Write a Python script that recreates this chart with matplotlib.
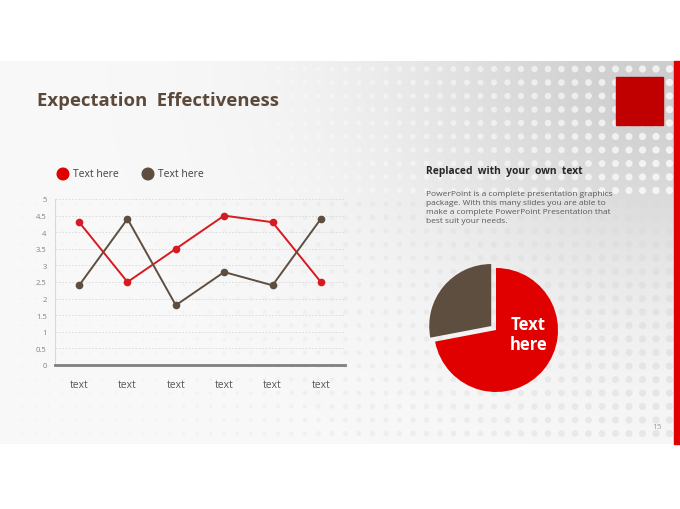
import numpy as np
import matplotlib
matplotlib.use("Agg")
import matplotlib.pyplot as plt
from matplotlib.patches import Rectangle

plt.rcParams['font.family'] = ['Open Sans', 'DejaVu Sans']

# ---------------- data ----------------
categories = ["text", "text", "text", "text", "text", "text"]
series_red = [4.3, 2.5, 3.5, 4.5, 4.3, 2.5]
series_brown = [2.4, 4.4, 1.8, 2.8, 2.4, 4.4]
legend_labels = ["Text here", "Text here"]
y_ticks = [0, 0.5, 1, 1.5, 2, 2.5, 3, 3.5, 4, 4.5, 5]
y_tick_labels = ["0", "0.5", "1", "1.5", "2", "2.5", "3", "3.5", "4", "4.5", "5"]
pie_values = [28, 72]          # brown, red
pie_label = "Text\nhere"

title = "Expectation  Effectiveness"
side_title = "Replaced  with  your  own  text"
side_body = ("PowerPoint is a complete presentation graphics\n"
             "package. With this many slides you are able to\n"
             "make a complete PowerPoint Presentation that\n"
             "best suit your needs.")
page_no = "15"

RED = "#E00000"
LINE_RED = "#D71920"
BROWN = "#5E4E40"
DARK_RED = "#C00000"

W, H = 680, 510
fig = plt.figure(figsize=(6.8, 5.1), dpi=100)
fig.patch.set_facecolor("white")

# ---------------- background (pixel coords) ----------------
bg = fig.add_axes([0, 0, 1, 1])
bg.set_xlim(0, W)
bg.set_ylim(H, 0)
bg.axis("off")

top, bottom = 62, 445
xs = np.linspace(0, 674, 340)
ys = np.linspace(top, bottom, 200)
gx, gy = np.meshgrid(xs, ys)
d = np.hypot((gx - 680) / 330, (gy - 62) / 260)
shade = 0.975 - 0.17 * np.exp(-d ** 2 * 1.4)
bg.imshow(np.dstack([shade] * 3), extent=(0, 674, bottom, top),
          aspect="auto", zorder=0, interpolation="bilinear")

# halftone dots
dx = np.arange(8, 674, 13.5)
dy = np.arange(70, 445, 13.5)
px, py = np.meshgrid(dx, dy)
px, py = px.ravel(), py.ravel()
strength = np.clip((px - 120) / 550, 0, 1) ** 1.2
sizes = 4 + 24 * strength
upper = py < 205
dot_col = np.where(upper[:, None], [[1, 1, 1]], [[0.86, 0.86, 0.86]])
alpha = np.where(upper, 0.6 * strength + 0.15, 0.45 * strength + 0.12)
rgba = np.column_stack([dot_col, np.clip(alpha, 0, 1)])
bg.scatter(px, py, s=sizes, c=rgba, linewidths=0, zorder=1)

bg.add_patch(Rectangle((674, top), 6, bottom - top, color=RED, zorder=3))
bg.add_patch(Rectangle((616, 78), 47, 48, color=DARK_RED, zorder=3))

bg.text(37, 101, title, fontsize=13.3, fontweight="bold", color="#5B4A3C",
        va="center", ha="left", zorder=4)

# legend
bg.scatter([63, 148], [175, 175], s=70, c=[RED, BROWN], zorder=4)
bg.text(73, 175, legend_labels[0], fontsize=7.5, color="#404040", va="center", zorder=4)
bg.text(158, 175, legend_labels[1], fontsize=7.5, color="#404040", va="center", zorder=4)

bg.text(426, 172, side_title, fontsize=7.4, fontweight="bold", color="#262626",
        va="center", zorder=4)
bg.text(426, 191, side_body, fontsize=6.0, color="#595959", va="top",
        linespacing=1.42, zorder=4)
bg.text(662, 428, page_no, fontsize=6, color="#A0A0A0", ha="right",
        va="center", zorder=4)

# ---------------- line chart ----------------
l, r, b, t = 55, 345, 366, 200
ax = fig.add_axes([l / W, (H - b) / H, (r - l) / W, (b - t) / H])
ax.patch.set_alpha(0)
x = np.arange(len(categories))
ax.plot(x, series_red, color=LINE_RED, lw=1.4, marker="o", ms=4.5, zorder=3)
ax.plot(x, series_brown, color=BROWN, lw=1.4, marker="o", ms=4.5, zorder=3)
ax.set_xlim(-0.5, 5.5)
ax.set_ylim(0, 5)
ax.set_yticks(y_ticks)
ax.set_yticklabels(y_tick_labels)
ax.set_xticks(x)
ax.set_xticklabels(categories)
ax.tick_params(axis="y", length=0, labelsize=5.5, labelcolor="#808080", pad=6)
ax.tick_params(axis="x", length=0, labelsize=7.5, labelcolor="#595959", pad=10)
ax.yaxis.grid(True, color="#D9D9D9", lw=0.6, ls=(0, (2, 2)))
ax.set_axisbelow(True)
for s in ("top", "right"):
    ax.spines[s].set_visible(False)
ax.spines["left"].set_color("#D9D9D9")
ax.spines["left"].set_linewidth(0.8)
ax.spines["bottom"].set_color("#808080")
ax.spines["bottom"].set_linewidth(2)

# ---------------- pie ----------------
cx, cy, rad = 496, 331, 62
half = rad * 1.25
pax = fig.add_axes([(cx - half) / W, (H - cy - half) / H, 2 * half / W, 2 * half / H])
pax.pie(pie_values, colors=[BROWN, RED], startangle=90, counterclock=True,
        explode=[0.1, 0], radius=1,
        wedgeprops=dict(linewidth=0))
pax.set_xlim(-1.25, 1.25)
pax.set_ylim(-1.25, 1.25)
pax.set_aspect("equal")
pax.text(0.52, -0.06, pie_label, fontsize=12, fontweight="bold", color="white",
         ha="center", va="center", linespacing=1.15)

fig.savefig("out.png", dpi=100)
